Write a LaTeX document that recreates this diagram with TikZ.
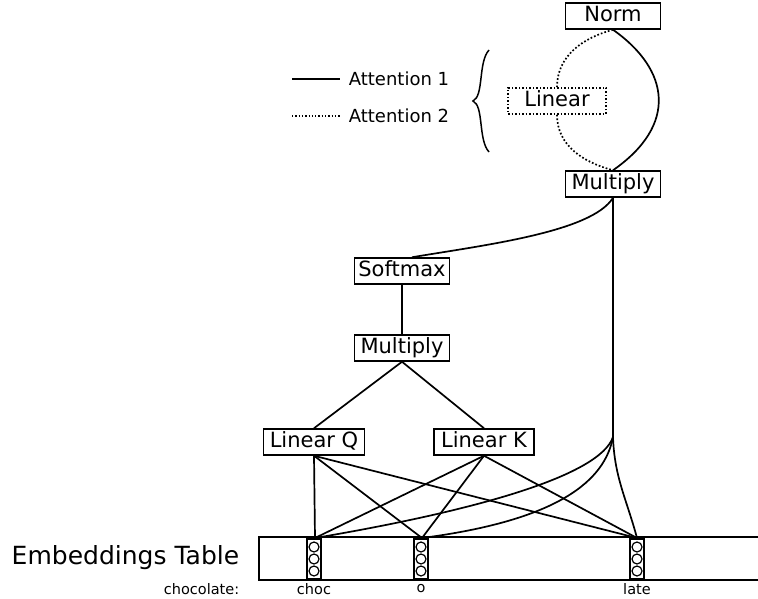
\documentclass[tikz,border=0pt]{standalone}
\usepackage{fontspec}
\setmainfont{DejaVu Sans}
\begin{document}
\begin{tikzpicture}[x=1pt,y=1pt,line width=1.7pt,
  opbox/.style={draw,line width=1.5pt,font=\fontsize{21}{23}\selectfont,inner xsep=3pt,inner ysep=1pt,minimum width=95pt,minimum height=26pt,text depth=4.5pt,text height=16pt},
  dotbox/.style={opbox,dotted,minimum width=98pt},
  vecbox/.style={draw,line width=1.3pt,minimum width=14pt,minimum height=40pt,inner sep=0pt},
  lbl/.style={font=\fontsize{14.5}{16}\selectfont,inner sep=0pt},
  leg/.style={font=\fontsize{18}{20}\selectfont,inner sep=0pt,anchor=west}]
\useasboundingbox (0,0) rectangle (758,-599);
% nodes
\node[opbox] (norm) at (613,-16) {Norm};
\node[dotbox] (lin) at (557,-101) {Linear};
\node[opbox] (mul2) at (613,-184) {Multiply};
\node[opbox] (soft) at (402,-271) {Softmax};
\node[opbox] (mul1) at (402,-348) {Multiply};
\node[opbox,minimum width=101pt] (lq) at (314,-442) {Linear Q};
\node[opbox,minimum width=100pt] (lk) at (484,-442) {Linear K};
\coordinate (j) at (613,-437);
% legend
\coordinate (l1a) at (292,-79); \coordinate (l1b) at (340,-79);
\coordinate (l2a) at (292,-116); \coordinate (l2b) at (340,-116);
\draw (l1a) -- (l1b);
\draw[dotted,line width=1.3pt] (l2a) -- (l2b);
\node[leg] (t1) at (348,-79) {Attention 1};
\node[leg] (t2) at (348,-116) {Attention 2};
\draw[line width=1.5pt] (489,-50) .. controls (478,-62) and (484,-96) .. (473,-101)
  .. controls (484,-106) and (478,-140) .. (489,-152);
% embeddings table
\draw[line width=1.5pt] (770,-537) -- (259,-537) -- (259,-580) -- (770,-580);
\node[font=\fontsize{25}{27}\selectfont,inner sep=0pt,anchor=east] (et) at (240,-558) {Embeddings Table};
\node[lbl,anchor=east] (chl) at (240,-589) {chocolate:};
\foreach \n/\x/\t in {v1/314/choc,v2/421/o,v3/637/late}{
  \node[vecbox] (\n) at (\x,-559) {};
  \foreach \yy in {-547,-559,-571}{\draw[line width=1.2pt] (\x,\yy) circle (5pt);}
  \node[lbl] (\n t) at (\x,-589) {\t};
}
\coordinate (c1) at (315,-538);
\coordinate (c2) at (422,-538);
\coordinate (c3) at (637,-538);
% attention loop
\draw (norm.south) .. controls (670,-70) and (678,-125) .. (mul2.north);
\draw[dotted] (norm.south) to[out=195,in=90] (lin.north);
\draw[dotted] (lin.south) to[out=-90,in=165] (mul2.north);
% connectors
\draw (mul2.south) .. controls (592,-232) and (485,-245) .. ([xshift=10pt]soft.north);
\draw (mul2.south) -- (j);
\draw (soft) -- (mul1);
\draw (mul1.south) -- (lq.north);
\draw (mul1.south) -- (lk.north);
\foreach \c in {c1,c2,c3}{
  \draw (lq.south) -- (\c);
  \draw (lk.south) -- (\c);
}
\draw (j) .. controls (600,-475) and (480,-510) .. (c1);
\draw (j) .. controls (605,-480) and (560,-520) .. (c2);
\draw (j) to[out=-88,in=105] (c3);
\end{tikzpicture}
\end{document}
